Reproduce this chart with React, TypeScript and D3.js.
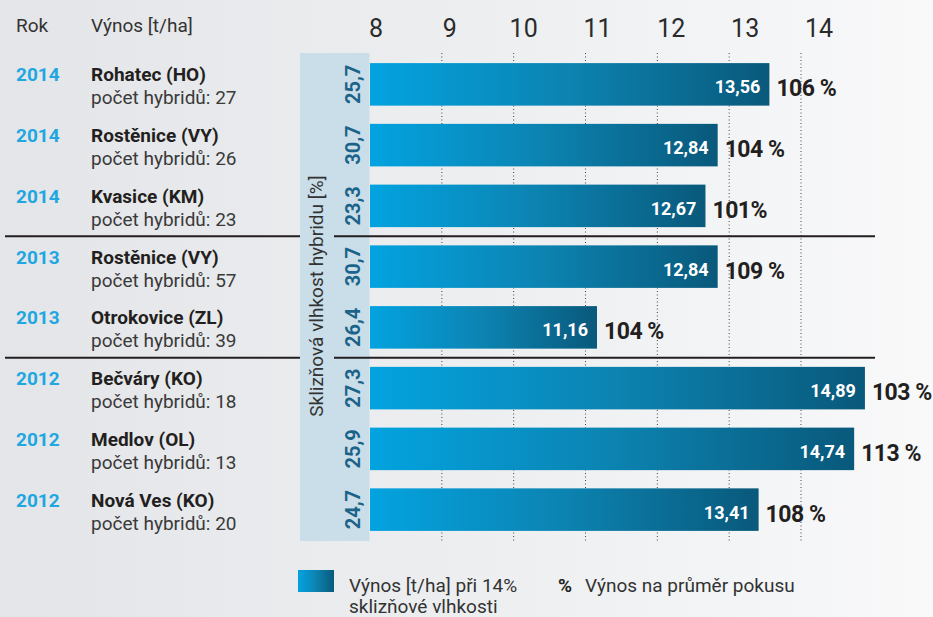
import React from 'react';
import * as d3 from 'd3';

const years = [2014, 2014, 2014, 2013, 2013, 2012, 2012, 2012];
const locations = ['Rohatec (HO)', 'Rostěnice (VY)', 'Kvasice (KM)', 'Rostěnice (VY)', 'Otrokovice (ZL)', 'Bečváry (KO)', 'Medlov (OL)', 'Nová Ves (KO)'];
const hybridCounts = [27, 26, 23, 57, 39, 18, 13, 20];
const moisture = [25.7, 30.7, 23.3, 30.7, 26.4, 27.3, 25.9, 24.7];
const yields = [13.56, 12.84, 12.67, 12.84, 11.16, 14.89, 14.74, 13.41];
const pctLabels = ['106 %', '104 %', '101%', '109 %', '104 %', '103 %', '113 %', '108 %'];
const xTicks = [8, 9, 10, 11, 12, 13, 14];
const groupStarts = [3, 5];

const W = 933;
const H = 617;
const FONT = "Roboto, 'Open Sans', sans-serif";

const locale = d3.formatLocale({ decimal: ',', thousands: ' ', grouping: [3], currency: ['', ''] });
const f2 = locale.format('.2f');
const f1 = locale.format('.1f');

export default function App() {
  const keys = years.map((y, i) => `${y}-${locations[i]}-${i}`);
  const x = d3.scaleLinear().domain([8, 14]).range([370, 801]);
  const xLab = d3.scaleLinear().domain([8, 14]).range([376, 819]);
  const y = d3.scaleBand<string>().domain(keys).range([54, 540]).paddingInner(0.3).paddingOuter(0.15);
  const bw = y.bandwidth();
  const gap = y.step() - bw;

  return (
    <svg width={W} height={H} style={{ position: 'absolute', left: 0, top: 0, display: 'block' }} fontFamily={FONT}>
      <defs>
        <linearGradient id="bg" x1="0" x2="1" y1="0" y2="0">
          <stop offset="0" stopColor="#e3e5e8" />
          <stop offset="0.6" stopColor="#eef0f2" />
          <stop offset="1" stopColor="#f9f9fa" />
        </linearGradient>
        <linearGradient id="bar" x1="0" x2="1" y1="0" y2="0">
          <stop offset="0" stopColor="#03a3e0" />
          <stop offset="0.5" stopColor="#0c83b1" />
          <stop offset="1" stopColor="#09597b" />
        </linearGradient>
      </defs>
      <rect x={0} y={0} width={W} height={H} fill="url(#bg)" />

      {/* header */}
      <text x={16} y={32} fontSize={19} fill="#333">Rok</text>
      <text x={91} y={32} fontSize={19} fill="#333">Výnos [t/ha]</text>

      {/* x tick labels */}
      {xTicks.map((t) => (
        <text key={t} x={xLab(t)} y={37} fontSize={25} textAnchor="middle" fill="#2b2b2b">{t}</text>
      ))}

      {/* strip */}
      <rect x={300} y={53} width={69.5} height={488} fill="#c9dee9" />

      {/* gridlines */}
      {xTicks.slice(1).map((t) => (
        <line key={t} x1={x(t)} x2={x(t)} y1={53} y2={541} stroke="#444" strokeWidth={1} strokeDasharray="1,2.5" />
      ))}

      {/* group separators */}
      {groupStarts.map((i) => {
        const yy = (y(keys[i]) as number) - gap / 2;
        return <line key={i} x1={5} x2={875} y1={yy} y2={yy} stroke="#231f20" strokeWidth={2} />;
      })}
      <rect x={300} y={168} width={34} height={258} fill="#c9dee9" />
      <text transform="translate(323,296) rotate(-90)" textAnchor="middle" fontSize={19} fill="#333">
        Sklizňová vlhkost hybridu [%]
      </text>

      {keys.map((k, i) => {
        const y0 = y(k) as number;
        const cy = y0 + bw / 2;
        const xe = x(yields[i]);
        return (
          <g key={k}>
            <text x={16} y={cy - 3} fontSize={19} fontWeight={700} fill="#1ea7e1">{years[i]}</text>
            <text x={91} y={cy - 3} fontSize={19} fontWeight={700} fill="#231f20">{locations[i]}</text>
            <text x={91} y={cy + 20} fontSize={19} fill="#3a3a3a">{`počet hybridů: ${hybridCounts[i]}`}</text>
            <text transform={`translate(360,${cy}) rotate(-90)`} textAnchor="middle" fontSize={20} fontWeight={700} fill="#1b6388">
              {f1(moisture[i])}
            </text>
            <rect x={x(8)} y={y0} width={xe - x(8)} height={bw} fill="url(#bar)" />
            <text x={xe - 9} y={cy + 9} textAnchor="end" fontSize={18} fontWeight={700} fill="#ffffff">{f2(yields[i])}</text>
            <text x={xe + 7} y={cy + 12} fontSize={23} fontWeight={700} fill="#231f20" letterSpacing={-0.5}>{pctLabels[i]}</text>
          </g>
        );
      })}

      {/* legend */}
      <rect x={298} y={570} width={36} height={22} fill="url(#bar)" />
      <text x={349} y={592} fontSize={19} fill="#333">Výnos [t/ha] při 14%</text>
      <text x={349} y={613} fontSize={19} fill="#333">sklizňové vlhkosti</text>
      <text x={558} y={592} fontSize={19} fontWeight={700} fill="#231f20">%</text>
      <text x={585} y={592} fontSize={19} fill="#333">Výnos na průměr pokusu</text>
    </svg>
  );
}
